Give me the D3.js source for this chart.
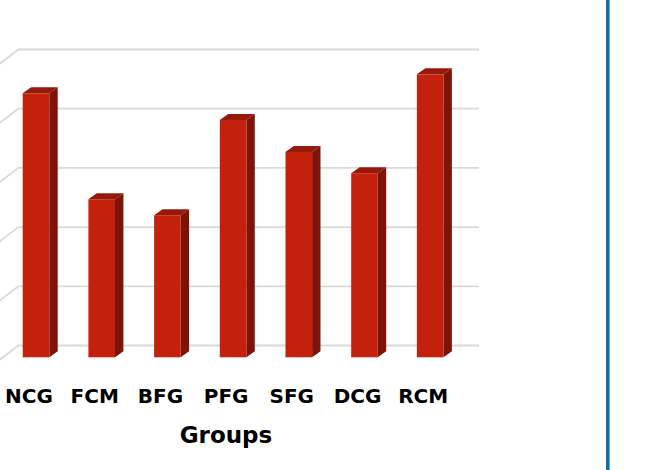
<!DOCTYPE html>
<html>
<head>
<meta charset="utf-8">
<script src="https://cdn.jsdelivr.net/npm/d3@7"></script>
<style>
  html, body { margin: 0; padding: 0; background: #fff; }
  svg { display: block; }
</style>
</head>
<body>
<svg id="chart" width="671" height="470"></svg>
<script>
// Group means
const groups = ["NCG", "FCM", "BFG", "PFG", "SFG", "DCG", "RCM"];
const values = [4.46, 2.67, 2.40, 4.01, 3.47, 3.11, 4.78];
const yTicks = [0, 1, 2, 3, 4, 5];
const xTitle = "Groups";

const svg = d3.select("#chart");

// back wall of the 3-D plot area
const wall = { left: 18.3, right: 479, base: 345.5, top: 49.5 };
// side wall / floor receding direction (towards viewer)
const sideDx = -18.3, sideDy = 14;
// bar solid: front face sits in front of the wall, depth drawn up-right
const barOffY = 11.8;
const depth = { dx: 8.4, dy: -6 };

const y = d3.scaleLinear().domain([0, 5]).range([wall.base, wall.top]);

const x = d3.scaleBand()
  .domain(groups)
  .range([3.0, 463.2])
  .paddingInner(0.595)
  .paddingOuter(0.3);

// gridlines: back wall plus the receding left wall
const grid = svg.append("g");
yTicks.forEach(t => {
  const gy = y(t);
  grid.append("path")
    .attr("d", `M${wall.left + sideDx * 1.6},${gy + sideDy * 1.6} L${wall.left},${gy} L${wall.right},${gy}`)
    .attr("fill", "none")
    .attr("stroke", "#d9d9d9")
    .attr("stroke-width", 1.8);
});

// bars
const bars = svg.append("g");
groups.forEach((g, i) => {
  const x0 = x(g);
  const w = x.bandwidth();
  const yb = y(0) + barOffY;
  const yt = y(values[i]) + barOffY;
  const b = bars.append("g");
  // top face
  b.append("path")
    .attr("d", `M${x0},${yt} L${x0 + depth.dx},${yt + depth.dy} L${x0 + w + depth.dx},${yt + depth.dy} L${x0 + w},${yt} Z`)
    .attr("fill", "#951a0b");
  // side face
  b.append("path")
    .attr("d", `M${x0 + w},${yt} L${x0 + w + depth.dx},${yt + depth.dy} L${x0 + w + depth.dx},${yb + depth.dy} L${x0 + w},${yb} Z`)
    .attr("fill", "#7e1409");
  // front face
  b.append("rect")
    .attr("x", x0).attr("y", yt)
    .attr("width", w).attr("height", yb - yt)
    .attr("fill", "#c4210d");
});

// category labels
svg.append("g").selectAll("text")
  .data(groups)
  .join("text")
  .attr("x", d => x(d) + x.bandwidth() / 2 - 7)
  .attr("y", 402.5)
  .attr("text-anchor", "middle")
  .attr("font-family", "DejaVu Sans, sans-serif")
  .attr("font-weight", "bold")
  .attr("font-size", 20)
  .attr("fill", "#000")
  .text(d => d);

// axis title
svg.append("text")
  .attr("x", 226)
  .attr("y", 443)
  .attr("text-anchor", "middle")
  .attr("font-family", "DejaVu Sans, sans-serif")
  .attr("font-weight", "bold")
  .attr("font-size", 23)
  .attr("fill", "#000")
  .text(xTitle);

// frame border on the right
svg.append("rect").attr("x", 606).attr("y", 0).attr("width", 3).attr("height", 470).attr("fill", "#1c6a99");
svg.append("rect").attr("x", 609).attr("y", 0).attr("width", 1).attr("height", 470).attr("fill", "#5aa9d8");
</script>
</body>
</html>
